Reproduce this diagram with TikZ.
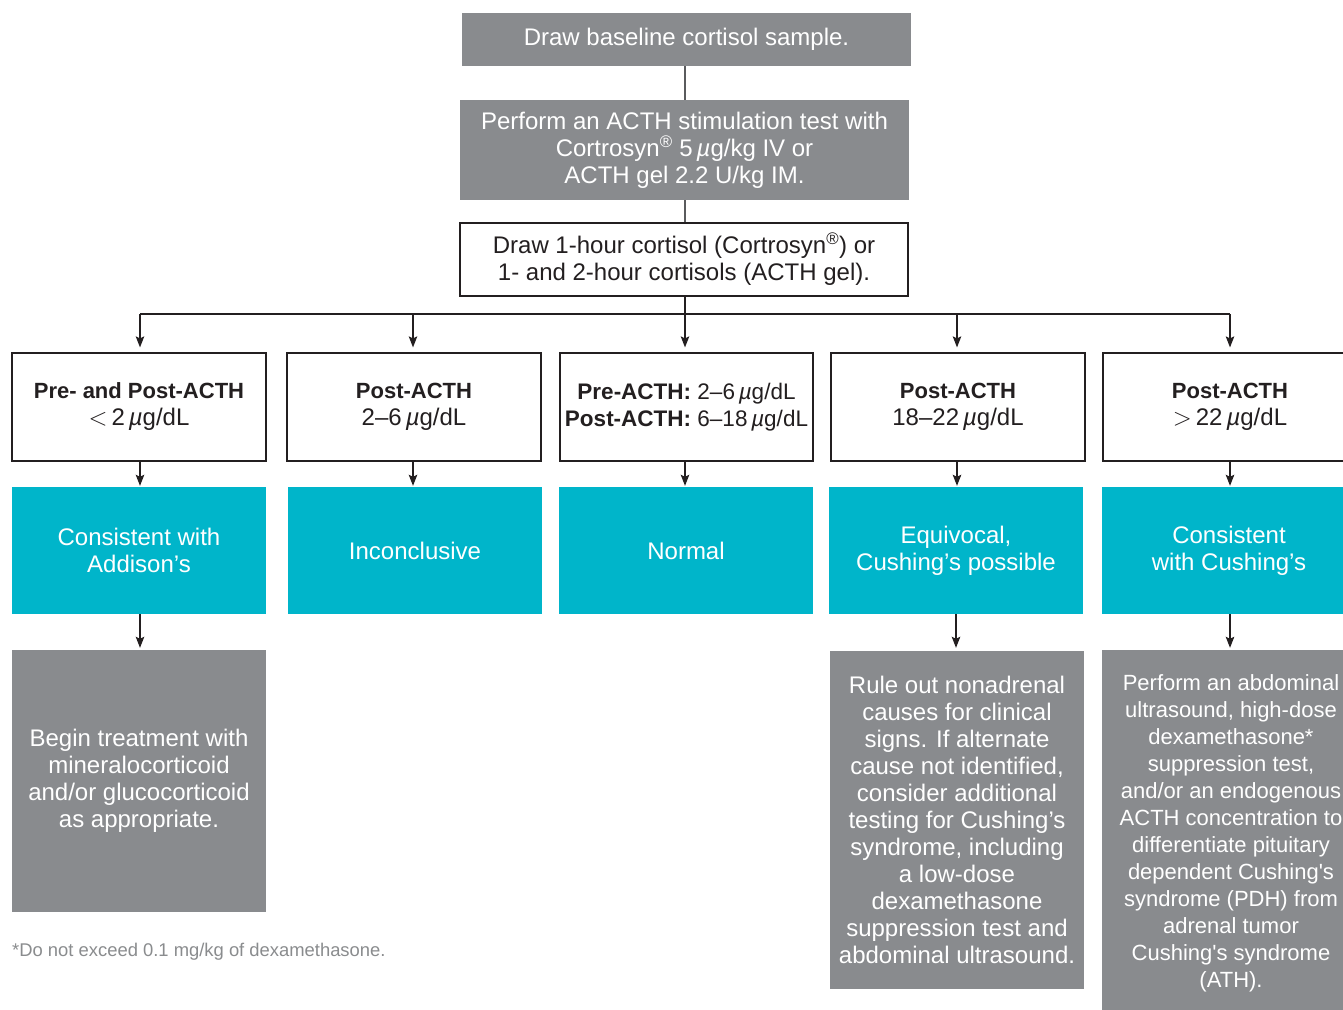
\documentclass[tikz,border=0pt]{standalone}
\usepackage{fontspec}
\setmainfont{Liberation Sans}
\usetikzlibrary{arrows.meta}
\definecolor{boxgray}{HTML}{898B8E}
\definecolor{teal}{HTML}{00B5CA}
\definecolor{ink}{HTML}{231F20}
\definecolor{linegray}{HTML}{5A5B5D}
\definecolor{notegray}{HTML}{8A8C8E}
\newcommand{\mugr}{\textit{µ}g}
\newcommand{\mug}{\textit{µ}g/dL}
\newcommand{\hd}[1]{{\fontsize{22}{27}\selectfont\bfseries #1}}
\tikzset{
  base/.style={rectangle, inner sep=0pt, align=center, font=\fontsize{24}{27}\selectfont},
  graybox/.style={base, fill=boxgray, text=white},
  whitebox/.style={base, draw=ink, line width=1.2pt, fill=white, text=ink},
  tealbox/.style={base, fill=teal, text=white},
  conn/.style={draw=linegray, line width=1.3pt},
  arr/.style={draw=ink, line width=1.2pt, -{Stealth[length=11pt,width=8.5pt,inset=2pt]}},
}
\begin{document}
\begin{tikzpicture}[x=1pt,y=-1pt]
\clip (0,0) rectangle (1343,1009);
\fill[white] (0,0) rectangle (1343,1009);
% top chain
\node[graybox, minimum width=449pt, minimum height=53pt] (b1) at (686.5,39.5) {Draw baseline cortisol sample.};
\node[graybox, minimum width=449pt, minimum height=100pt] (b2) at (684.5,150) {Perform an ACTH stimulation test with\\Cortrosyn\textsuperscript{®} 5\,\mugr/kg IV or\\ACTH gel 2.2 U/kg IM.};
\node[whitebox, minimum width=448pt, minimum height=73pt] (b3) at (684,259.5) {Draw 1-hour cortisol (Cortrosyn\textsuperscript{®}) or\\1- and 2-hour cortisols (ACTH gel).};
% rows
\node[whitebox, minimum width=254pt, minimum height=108pt] (r1) at (139,407) {\hd{Pre- and Post-ACTH}\\$<$\,2\,\mug};
\node[whitebox, minimum width=254pt, minimum height=108pt] (r2) at (414,407) {\hd{Post-ACTH}\\2–6\,\mug};
\node[whitebox, minimum width=253pt, minimum height=108pt, font=\fontsize{22.5}{27}\selectfont] (r3) at (686.5,407) {\textbf{Pre-ACTH:} 2–6\,\mug\\\textbf{Post-ACTH:} 6–18\,\mug};
\node[whitebox, minimum width=254pt, minimum height=108pt] (r4) at (958,407) {\hd{Post-ACTH}\\18–22\,\mug};
\node[whitebox, minimum width=254pt, minimum height=108pt] (r5) at (1230,407) {\hd{Post-ACTH}\\$>$\,22\,\mug};
% teal
\node[tealbox, minimum width=254pt, minimum height=127pt] (t1) at (139,550.5) {Consistent with\\Addison’s};
\node[tealbox, minimum width=254pt, minimum height=127pt] (t2) at (415,550.5) {Inconclusive};
\node[tealbox, minimum width=254pt, minimum height=127pt] (t3) at (686,550.5) {Normal};
\node[tealbox, minimum width=254pt, minimum height=127pt] (t4) at (956,550.5) {Equivocal,\\Cushing’s possible};
\node[tealbox, minimum width=254pt, minimum height=127pt] (t5) at (1229,550.5) {Consistent\\with Cushing’s};
% gray results
\node[graybox, minimum width=254pt, minimum height=262pt] (g1) at (139,781) {Begin treatment with\\mineralocorticoid\\and/or glucocorticoid\\as appropriate.};
\node[graybox, minimum width=254pt, minimum height=338pt] (g4) at (957,820) {Rule out nonadrenal\\causes for clinical\\signs. If alternate\\cause not identified,\\consider additional\\testing for Cushing’s\\syndrome, including\\a low-dose\\dexamethasone\\suppression test and\\abdominal ultrasound.};
\node[graybox, minimum width=254pt, minimum height=366pt] (g5) at (1229,833) {};
\node[inner sep=0pt, align=center, text=white, font=\fontsize{22}{27}\selectfont] (g5t) at (1231,833) {Perform an abdominal\\ultrasound, high-dose\\dexamethasone*\\suppression test,\\and/or an endogenous\\ACTH concentration to\\differentiate pituitary\\dependent Cushing\textquotesingle s\\syndrome (PDH) from\\adrenal tumor\\Cushing\textquotesingle s syndrome\\(ATH).};
% footnote
\node[anchor=west, inner sep=0pt, text=notegray, font=\fontsize{18.4}{20}\selectfont] (fn) at (12,952) {*Do not exceed 0.1 mg/kg of dexamethasone.};
% connectors
\coordinate (j1) at (140,314);
\coordinate (j2) at (413,314);
\coordinate (j3) at (685,314);
\coordinate (j4) at (957,314);
\coordinate (j5) at (1230,314);
\draw[conn] (b1.south -| 685,0) -- (b2.north -| 685,0);
\draw[conn] (b2.south -| 685,0) -- (b3.north -| 685,0);
\draw[draw=ink, line width=1.2pt] (b3.south -| 685,0) -- (j3);
\draw[draw=ink, line width=1.2pt] (j1) -- (j5);
\foreach \i in {1,...,5}{
  \draw[arr, shorten >=5pt] (j\i) -- (j\i |- r\i.north);
  \draw[arr, shorten >=1pt] (j\i |- r\i.south) -- (j\i |- t\i.north);
}
\draw[arr, shorten >=2pt] (j1 |- t1.south) -- (j1 |- g1.north);
\draw[arr, shorten >=3pt] (t4.south) -- (t4.south |- g4.north);
\draw[arr, shorten >=2pt] (j5 |- t5.south) -- (j5 |- g5.north);
\end{tikzpicture}
\end{document}
